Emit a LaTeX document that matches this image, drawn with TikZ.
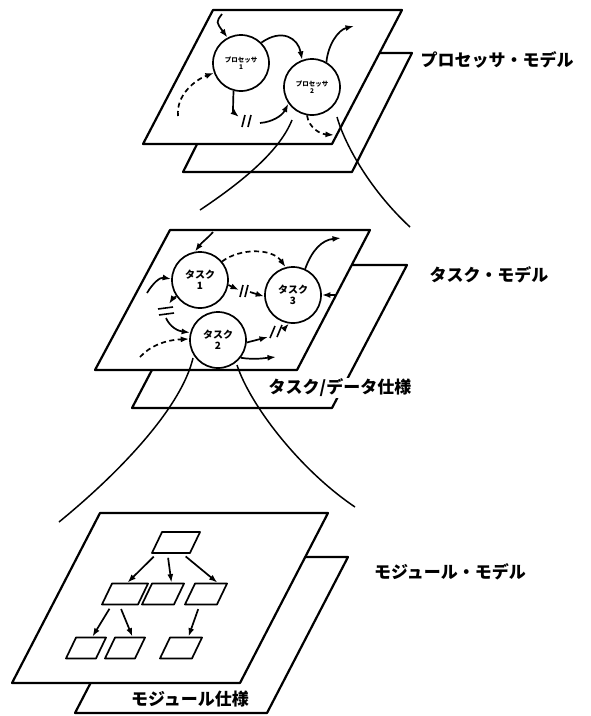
\documentclass[tikz,border=0pt]{standalone}
\usepackage{fontspec}
\newfontfamily\jp{Noto Sans CJK JP}
\usetikzlibrary{arrows.meta}
\begin{document}
\begin{tikzpicture}[x=1pt,y=-1pt,
  plane/.style={draw, line width=2.2pt, fill=white, line join=round},
  proc/.style={circle, draw, line width=1.7pt, fill=white, minimum size=56pt, inner sep=0pt, align=center, font=\jp\bfseries\fontsize{6.5}{7.5}\selectfont},
  task/.style={circle, draw, line width=1.7pt, fill=white, minimum size=56pt, inner sep=0pt, align=center, font=\jp\bfseries\fontsize{10}{11}\selectfont},
  arr/.style={line width=1.7pt, -{Latex[length=8.5pt,width=6pt]}},
  darr/.style={arr, dash pattern=on 5pt off 3.5pt},
  brk/.style={line width=1.6pt},
  link/.style={line width=1.5pt},
  mod/.style={draw, line width=1.7pt, xslant=0.48, transform shape, minimum height=21pt, inner sep=0pt, line join=round},
  lab/.style={font=\jp\bfseries\fontsize{17}{17}\selectfont, inner sep=1pt}
]
\useasboundingbox (0,0) rectangle (590,716);

% ---------- top layer ----------
\draw[plane] (183,172) -- (352,172) -- (412,53) -- (243,53) -- cycle;
\draw[plane] (143,144) -- (332,144) -- (402,10) -- (213,10) -- cycle;
\node[proc] (p1) at (241,63) {プロセッサ\\1};
\node[proc] (p2) at (312,87) {プロセッサ\\2};
\coordinate (a1s) at (222,14);
\coordinate (a3e) at (354,26);
\coordinate (a4s) at (178,116);
\coordinate (a5e) at (239,117);
\coordinate (a5s) at (260,123);
\coordinate (a6e) at (334,135);
\draw[arr] (a1s) .. controls (216,22) .. (p1.118);
\draw[arr] (p1.45) .. controls (282,28) and (298,38) .. (p2.110);
\draw[arr] (p2.60) .. controls (328,45) and (338,30) .. (a3e);
\draw[darr] (a4s) .. controls (176,95) and (195,80) .. (p1.200);
\draw[arr] (p1.255) .. controls (233,105) and (233,112) .. (a5e);
\draw[brk] (245,115) -- (242,127) (251,115) -- (248,127);
\draw[arr] (a5s) .. controls (272,122) and (282,116) .. (p2.215);
\draw[darr] (p2.260) .. controls (309,128) and (320,134) .. (a6e);

% ---------- middle layer ----------
\draw[plane] (132,408) -- (332,408) -- (407,265) -- (207,265) -- cycle;
\draw[plane] (95,370) -- (297,370) -- (370,230) -- (170,230) -- cycle;
\node[task] (t1) at (200,280) {タスク\\1};
\node[task] (t3) at (293,295) {タスク\\3};
\node[task] (t2) at (218,340) {タスク\\2};
\coordinate (m1s) at (213,232);
\coordinate (m3e) at (341,238);
\coordinate (m4s) at (147,293);
\coordinate (m5a) at (239,290);
\coordinate (m5b) at (250,292);
\coordinate (m6a) at (169,304);
\coordinate (m6b) at (166,318);
\coordinate (m7s) at (140,357);
\coordinate (m8a) at (268,337);
\coordinate (m8b) at (284,329);
\coordinate (m9e) at (276,357);
\coordinate (m10s) at (336,295);
\draw[arr] (m1s) .. controls (208,238) and (202,242) .. (t1.100);
\draw[darr] (t1.40) .. controls (240,248) and (272,248) .. (t3.105);
\draw[arr] (t3.65) .. controls (312,250) and (322,240) .. (m3e);
\draw[arr] (m4s) .. controls (153,283) and (160,277) .. (t1.178);
\draw[arr] (t1.350) -- (m5a);
\draw[brk] (243,285) -- (240,297) (248,285) -- (245,297);
\draw[arr] (m5b) -- (t3.183);
\draw[arr] (t1.215) .. controls (173,298) .. (m6a);
\draw[brk] (158,309) -- (173,307) (159,315) -- (174,313);
\draw[arr] (m6b) .. controls (170,327) and (178,331) .. (t2.165);
\draw[darr] (m7s) .. controls (150,346) and (165,340) .. (t2.178);
\draw[arr] (t2.355) -- (m8a);
\draw[brk] (275,326) -- (270,338) (282,325) -- (277,337);
\draw[arr] (m8b) -- (t3.262);
\draw[arr] (t2.322) .. controls (255,360) and (265,358) .. (m9e);
\draw[arr] (m10s) -- (t3.east);

% ---------- bottom layer ----------
\draw[plane] (75,713) -- (267,713) -- (348,557) -- (156,557) -- cycle;
\draw[plane] (12,683) -- (240,683) -- (328,513) -- (100,513) -- cycle;
\node[mod, minimum width=38pt] (m0) at (176,542.5) {};
\node[mod, minimum width=36pt] (n1) at (125,594) {};
\node[mod, minimum width=32pt] (n2) at (163,594) {};
\node[mod, minimum width=32pt] (n3) at (206,594) {};
\node[mod, minimum width=30pt] (k1) at (86,648) {};
\node[mod, minimum width=30pt] (k2) at (125,648) {};
\node[mod, minimum width=32pt] (k3) at (181,648) {};
\draw[arr, shorten <=4pt] ([xshift=-14pt]m0.south) -- ([xshift=-3pt]n1.north);
\draw[arr, shorten <=4pt] ([xshift=-3pt]m0.south) -- ([xshift=3pt]n2.north);
\draw[arr, shorten <=4pt] ([xshift=12pt]m0.south) -- ([xshift=6pt]n3.north);
\draw[arr, shorten <=4pt] ([xshift=-8pt]n1.south) -- ([xshift=1pt]k1.north);
\draw[arr, shorten <=4pt] ([xshift=0pt]n1.south) -- ([xshift=2pt]k2.north);
\draw[arr, shorten <=4pt] ([xshift=-1pt]n3.south) -- ([xshift=2pt]k3.north);

% ---------- connecting curves ----------
\coordinate (c1s) at (292,120);
\coordinate (c1e) at (200,210);
\coordinate (c2s) at (337,117);
\coordinate (c2e) at (410,227);
\coordinate (c3s) at (193,358);
\coordinate (c3e) at (59,522);
\coordinate (c4s) at (237,365);
\coordinate (c4e) at (355,507);
\draw[link] (c1s) .. controls (280,150) and (245,180) .. (c1e);
\draw[link] (c2s) .. controls (344,142) and (368,188) .. (c2e);
\draw[link] (c3s) .. controls (182,405) and (125,468) .. (c3e);
\draw[link] (c4s) .. controls (250,405) and (300,470) .. (c4e);

% ---------- labels ----------
\node[lab] (L1) at (497,60) {プロセッサ・モデル};
\node[lab] (L2) at (489,275) {タスク・モデル};
\node[lab, fill=white] (L3) at (340,388) {タスク/データ仕様};
\node[lab] (L4) at (450,572) {モジュール・モデル};
\node[lab] (L5) at (190,699) {モジュール仕様};
\end{tikzpicture}
\end{document}
